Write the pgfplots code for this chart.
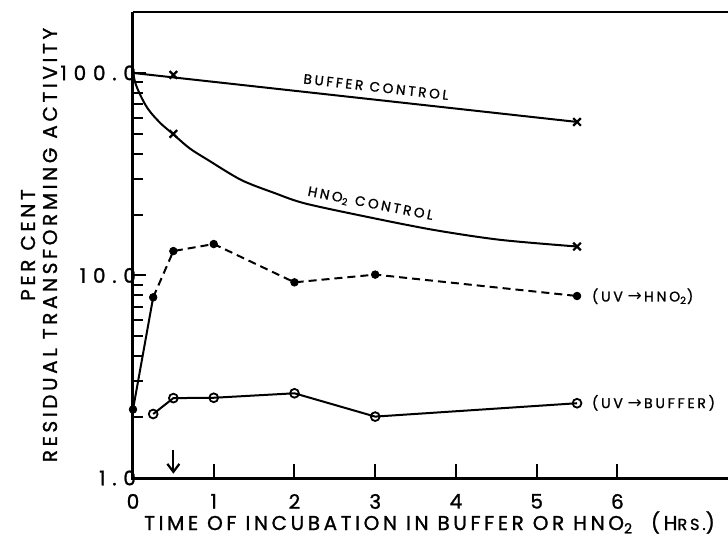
\documentclass[border=0pt]{standalone}
\usepackage{fontspec}
\setmainfont{Poppins}[FakeBold=1]
\newfontfamily\labfont{Poppins}[LetterSpace=18, FakeBold=1.2]
\newfontfamily\tickfont{Poppins}[LetterSpace=34, FakeBold=1.2]
\newfontfamily\smallfont{Poppins}[LetterSpace=20, FakeBold=1.2]
\newfontfamily\dejavu{DejaVu Sans}
\usepackage{pgfplots}
\usetikzlibrary{arrows.meta}
\pgfplotsset{compat=1.18}
\begin{document}
\begin{tikzpicture}
\begin{axis}[
  name=ax,
  at={(0,0)}, anchor=south west,
  scale only axis,
  width=297.5pt, height=233pt,
  ymode=log,
  xmin=0, xmax=7.37, ymin=1, ymax=200,
  axis line style={draw=none},
  xtick={0,1,2,3,4,5,6}, xticklabels={0,1,2,3,4,5,6},
  ytick={1,10,100}, yticklabels={1.0,10.0,100.0},
  xtick pos=left, ytick pos=left,
  tickwidth=6.5pt, subtickwidth=5pt,
  every tick/.append style={line width=1pt, black},
  xticklabel style={font=\labfont\fontsize{10}{11}\selectfont, yshift=-4.5pt},
  yticklabel style={font=\tickfont\fontsize{10}{11}\selectfont, xshift=5pt},
  clip=false,
]
% axis frame (left, bottom, top)
\draw[line width=1.5pt] (rel axis cs:0,1) -- (rel axis cs:0,0) -- (rel axis cs:1,0);
\draw[line width=1.2pt] (rel axis cs:0,1) -- (rel axis cs:1,1);
% buffer control
\addplot[line width=1pt, mark=none] coordinates {(0,100) (5.5,57.3)};
\addplot[only marks, mark=x, mark size=2.7pt, line width=1.1pt] coordinates {(0.5,97.8) (5.5,57.3)};
% HNO2 control
\addplot[line width=1pt, mark=none, smooth] coordinates {(0,100) (0.03,89) (0.08,79.4) (0.15,70) (0.226,63.3) (0.35,56) (0.494,50) (0.7,42.5) (0.928,37.2) (1.342,29.6) (1.757,25.5) (2.128,22.7) (2.893,19.5) (3.72,16.8) (4.547,15.0) (5.5,13.9)};
\addplot[only marks, mark=x, mark size=2.7pt, line width=1.1pt] coordinates {(0.5,50) (5.5,13.9)};
% UV -> HNO2
\addplot[line width=1pt, mark=none] coordinates {(0,2.18) (0.25,7.8)};
\addplot[line width=1pt, dash pattern=on 4pt off 2.5pt, mark=none] coordinates {(0.25,7.8) (0.5,13.2) (1,14.3) (2,9.25) (3,10.1) (5.5,7.92)};
\addplot[only marks, mark=*, mark size=1.9pt] coordinates {(0,2.18) (0.25,7.8) (0.5,13.2) (1,14.3) (2,9.25) (3,10.1) (5.5,7.92)};
% UV -> buffer
\addplot[line width=1pt, mark=o, mark size=2.2pt, mark options={fill=white, line width=0.9pt, solid}] coordinates {(0.25,2.07) (0.5,2.48) (1,2.49) (2,2.62) (3,2.01) (5.5,2.34)};
% labels
\node[rotate=-6.5, font=\smallfont\fontsize{6.8}{7}\selectfont] at (axis cs:3.01,85.3) {BUFFER CONTROL};
\node[rotate=-11, font=\smallfont\fontsize{6.8}{7}\selectfont] at (axis cs:2.94,22.5) {HNO\textsubscript{2} CONTROL};
\node[anchor=west, inner sep=0pt, font=\smallfont\fontsize{7}{8}\selectfont] at (axis cs:5.68,7.9) {(UV\,\,{\dejavu\fontsize{8.5}{8}\selectfont →}\,HNO\textsubscript{2})};
\node[anchor=west, inner sep=0pt, font=\smallfont\fontsize{7}{8}\selectfont] at (axis cs:5.68,2.35) {(UV\,\,{\dejavu\fontsize{8.5}{8}\selectfont →}\,BUFFER)};
\draw[line width=1.1pt, -{Straight Barb[length=4pt,width=6pt]}] (axis cs:0.5,1.37) -- (axis cs:0.5,1.05);
\end{axis}
% tick lines (axis: 40.366pt per hour, 101.26pt per decade)
\foreach \n in {1,2,3,4,5,6} {\draw[line width=1pt] (\n*40.366pt,0pt) -- ++(0pt,7pt);}
\foreach \yy in {101.26,202.52} {\draw[line width=1pt] (0pt,\yy pt) -- ++(6.5pt,0pt);}
\foreach \yy in {30.48,48.31,60.96,70.78,78.80,85.57,91.45,96.63,131.74,149.57,162.22,172.04,180.06,186.83,192.71,197.89} {\draw[line width=1pt] (0pt,\yy pt) -- ++(5pt,0pt);}
\node[rotate=90, align=center, font=\labfont\fontsize{10}{11}\selectfont, anchor=center] at (-47pt,116.5pt) {PER CENT\\RESIDUAL TRANSFORMING ACTIVITY};
\node[anchor=base, font=\labfont\fontsize{10}{11}\selectfont] at (148.25pt,-26pt) {TIME OF INCUBATION IN BUFFER OR HNO\textsubscript{2} \ (H{\fontsize{8}{9}\selectfont RS.})};
\pgfresetboundingbox
\path (-66.5pt,-32pt) rectangle (297.5pt,239pt);
\end{tikzpicture}
\end{document}
